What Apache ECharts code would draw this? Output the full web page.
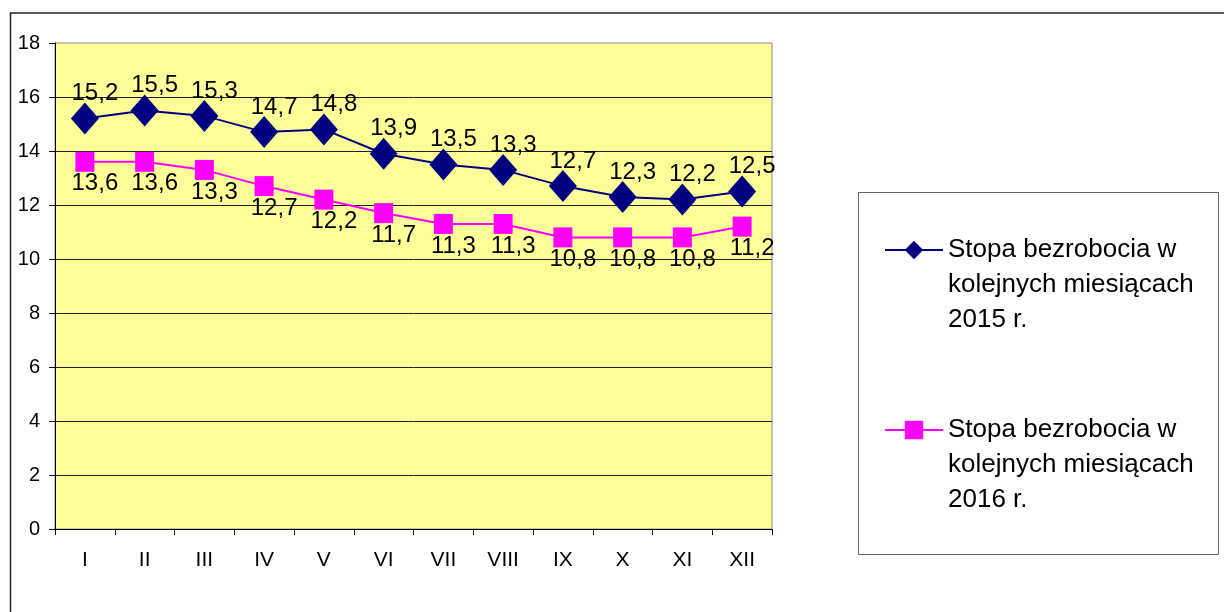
<!DOCTYPE html>
<html>
<head>
<meta charset="utf-8">
<script src="https://cdn.jsdelivr.net/npm/echarts@6/dist/echarts.min.js"></script>
<style>
html,body{margin:0;padding:0;background:#fff;}
#c{width:1224px;height:612px;}
</style>
</head>
<body>
<div id="c"></div>
<script>
const categories = ['I','II','III','IV','V','VI','VII','VIII','IX','X','XI','XII'];
const series2015 = [15.2, 15.5, 15.3, 14.7, 14.8, 13.9, 13.5, 13.3, 12.7, 12.3, 12.2, 12.5];
const series2016 = [13.6, 13.6, 13.3, 12.7, 12.2, 11.7, 11.3, 11.3, 10.8, 10.8, 10.8, 11.2];
const name2015 = 'Stopa bezrobocia w\nkolejnych miesiącach\n2015 r.';
const name2016 = 'Stopa bezrobocia w\nkolejnych miesiącach\n2016 r.';
const yTicks = [0, 2, 4, 6, 8, 10, 12, 14, 16, 18];

const FONT = "'Liberation Sans', Arial, sans-serif";
const fmt = p => p.value.toFixed(1).replace('.', ',');

const chart = echarts.init(document.getElementById('c'), null, {renderer: 'canvas'});
chart.setOption({
  animation: false,
  backgroundColor: '#fff',
  textStyle: {fontFamily: FONT, color: '#000'},
  grid: {
    left: 55, top: 43, width: 717, height: 486,
    show: true, backgroundColor: '#FFFF99', borderColor: '#8a8a8a', borderWidth: 1,
    outerBoundsMode: 'none'
  },
  graphic: [
    {type: 'rect', shape: {x: 10.5, y: 13, width: 1400, height: 800},
     style: {fill: 'none', stroke: '#222', lineWidth: 1.5}, z: 0, silent: true},
    {type: 'rect', shape: {x: 858.5, y: 192.5, width: 360, height: 362},
     style: {fill: '#fff', stroke: '#666', lineWidth: 1}, z: 0, silent: true}
  ],
  legend: {
    orient: 'vertical',
    left: 884, top: 162.5,
    padding: 0,
    itemGap: 5,
    itemWidth: 58, itemHeight: 23,
    data: [name2015, name2016],
    formatter: n => '\n\n' + n,
    textStyle: {fontFamily: FONT, fontSize: 26, color: '#000', lineHeight: 35},
    z: 5
  },
  xAxis: {
    type: 'category',
    data: categories,
    boundaryGap: true,
    axisLine: {show: true, lineStyle: {color: '#000', width: 1}},
    axisTick: {show: true, length: 6, lineStyle: {color: '#000'}},
    axisLabel: {fontFamily: FONT, fontSize: 21, color: '#000', margin: 21},
    splitLine: {show: false}
  },
  yAxis: {
    type: 'value',
    min: yTicks[0], max: yTicks[yTicks.length - 1], interval: 2,
    axisLine: {show: true, lineStyle: {color: '#000', width: 1}},
    axisTick: {show: true, length: 6, lineStyle: {color: '#000'}},
    axisLabel: {fontFamily: FONT, fontSize: 20, color: '#000', margin: 15},
    splitLine: {show: true, showMaxLine: false, lineStyle: {color: '#222', width: 1}}
  },
  series: [
    {
      name: name2015, type: 'line', data: series2015,
      symbol: 'diamond', symbolSize: [28, 32],
      lineStyle: {color: '#000080', width: 2},
      itemStyle: {color: '#000080'},
      label: {show: true, position: 'top', distance: 0, offset: [10, 3],
              fontFamily: FONT, fontSize: 24, color: '#000', formatter: fmt},
      z: 3
    },
    {
      name: name2016, type: 'line', data: series2016,
      symbol: 'rect', symbolSize: [19, 20],
      lineStyle: {color: '#FF00FF', width: 2},
      itemStyle: {color: '#FF00FF'},
      label: {show: true, position: 'bottom', distance: 0, offset: [10, 0],
              fontFamily: FONT, fontSize: 24, color: '#000', formatter: fmt},
      z: 2
    }
  ]
});
</script>
</body>
</html>
